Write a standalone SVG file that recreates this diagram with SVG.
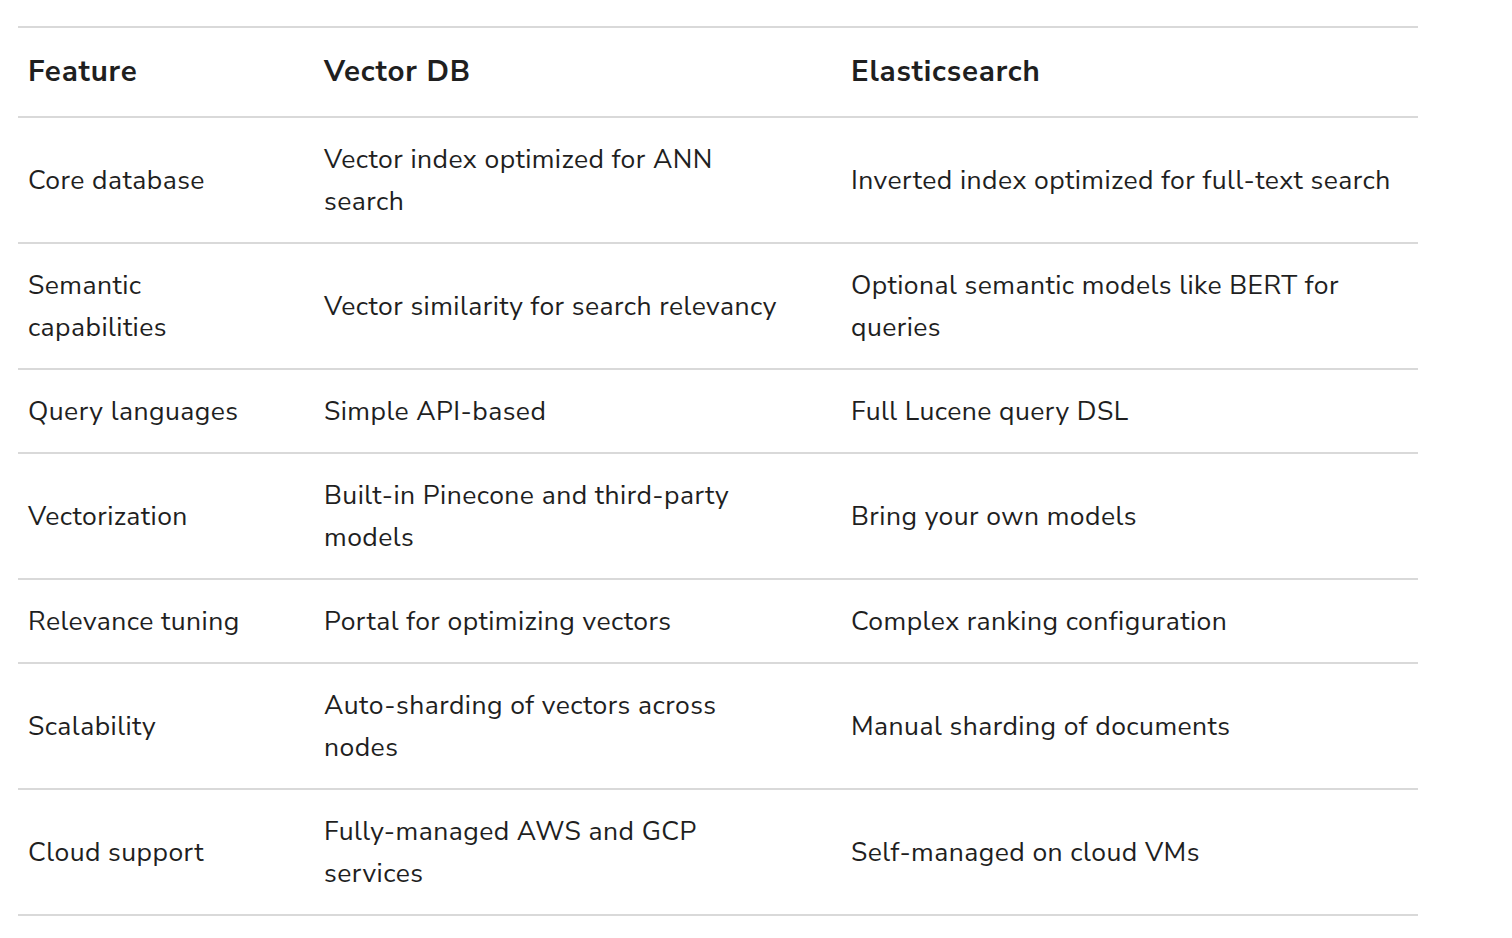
<svg xmlns="http://www.w3.org/2000/svg" width="1512" height="938" viewBox="0 0 1512 938">
<style>
text{font-family:"Nunito Sans","Noto Sans","Open Sans",sans-serif;font-size:26.5px;letter-spacing:0.45px;fill:#1f1f1f}
.h{font-weight:bold;font-size:29.5px;letter-spacing:0.8px}
line{stroke:#d9d9d9;stroke-width:2}
</style>
<rect width="1512" height="938" fill="#fff"/>
<g id="lines">
<line x1="18" y1="27" x2="1418" y2="27"/>
<line x1="18" y1="117" x2="1418" y2="117"/>
<line x1="18" y1="243" x2="1418" y2="243"/>
<line x1="18" y1="369" x2="1418" y2="369"/>
<line x1="18" y1="453" x2="1418" y2="453"/>
<line x1="18" y1="579" x2="1418" y2="579"/>
<line x1="18" y1="663" x2="1418" y2="663"/>
<line x1="18" y1="789" x2="1418" y2="789"/>
<line x1="18" y1="915" x2="1418" y2="915"/>
</g>
<g id="header">
<text class="h" x="28" y="81">Feature</text>
<text class="h" x="324" y="81">Vector DB</text>
<text class="h" x="851" y="81">Elasticsearch</text>
</g>
<g id="r1">
<text x="28" y="189">Core database</text>
<text x="324" y="168">Vector index optimized for ANN</text>
<text x="324" y="210">search</text>
<text x="851" y="189">Inverted index optimized for full-text search</text>
</g>
<g id="r2">
<text x="28" y="294">Semantic</text>
<text x="28" y="336">capabilities</text>
<text x="324" y="315">Vector similarity for search relevancy</text>
<text x="851" y="294">Optional semantic models like BERT for</text>
<text x="851" y="336">queries</text>
</g>
<g id="r3">
<text x="28" y="420">Query languages</text>
<text x="324" y="420">Simple API-based</text>
<text x="851" y="420">Full Lucene query DSL</text>
</g>
<g id="r4">
<text x="28" y="525">Vectorization</text>
<text x="324" y="504">Built-in Pinecone and third-party</text>
<text x="324" y="546">models</text>
<text x="851" y="525">Bring your own models</text>
</g>
<g id="r5">
<text x="28" y="630">Relevance tuning</text>
<text x="324" y="630">Portal for optimizing vectors</text>
<text x="851" y="630">Complex ranking configuration</text>
</g>
<g id="r6">
<text x="28" y="735">Scalability</text>
<text x="324" y="714">Auto-sharding of vectors across</text>
<text x="324" y="756">nodes</text>
<text x="851" y="735">Manual sharding of documents</text>
</g>
<g id="r7">
<text x="28" y="861">Cloud support</text>
<text x="324" y="840">Fully-managed AWS and GCP</text>
<text x="324" y="882">services</text>
<text x="851" y="861">Self-managed on cloud VMs</text>
</g>
</svg>
